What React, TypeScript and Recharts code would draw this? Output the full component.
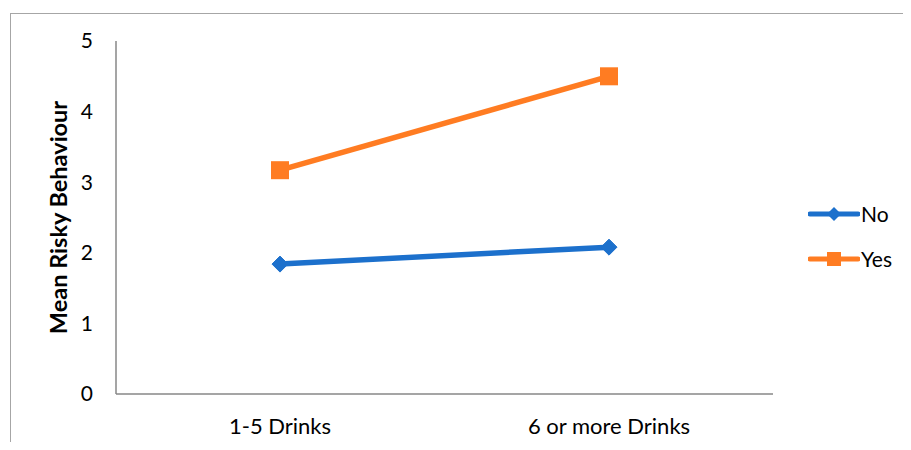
import { Line, LineChart, XAxis, YAxis } from "recharts";

const drinkGroups = ["1-5 Drinks", "6 or more Drinks"];
const noValues = [1.84, 2.08];
const yesValues = [3.17, 4.5];
const yTicks = [0, 1, 2, 3, 4, 5];

const data = drinkGroups.map((group, i) => ({ group, No: noValues[i], Yes: yesValues[i] }));

const FONT = "Lato, 'Liberation Sans', sans-serif";
const BLUE = "#1c70cc";
const ORANGE = "#ff7c22";

// diamond marker for the "No" series
function Diamond(props: any) {
  const { cx, cy } = props;
  if (cx == null || cy == null) return null;
  const r = 8;
  return (
    <path
      d={`M${cx - r},${cy} L${cx},${cy - r} L${cx + r},${cy} L${cx},${cy + r} Z`}
      fill={BLUE}
      stroke={BLUE}
      strokeWidth={1}
    />
  );
}

function Square(props: any) {
  const { cx, cy } = props;
  if (cx == null || cy == null) return null;
  const s = 9;
  return <rect x={cx - s} y={cy - s} width={s * 2} height={s * 2} fill={ORANGE} />;
}

function LegendBox() {
  const items = [
    { name: "No", color: BLUE, shape: "diamond" },
    { name: "Yes", color: ORANGE, shape: "square" },
  ];
  return (
    <div style={{ fontFamily: FONT, fontSize: 21, color: "#000" }}>
      {items.map((it) => (
        <div key={it.name} style={{ display: "flex", alignItems: "center", height: 45 }}>
          <svg width={52} height={20}>
            <line x1={2} y1={10} x2={50} y2={10} stroke={it.color} strokeWidth={5} strokeLinecap="round" />
            {it.shape === "diamond" ? (
              <path d="M19,10 L26,3 L33,10 L26,17 Z" fill={it.color} />
            ) : (
              <rect x={19} y={3} width={14} height={14} fill={it.color} />
            )}
          </svg>
          <span style={{ marginLeft: 1 }}>{it.name}</span>
        </div>
      ))}
    </div>
  );
}

export default function App() {
  return (
    <div style={{ position: "relative", width: 911, height: 450, margin: -8, background: "#fff", overflow: "hidden" }}>
      <div
        style={{
          position: "absolute",
          left: 10,
          top: 13,
          width: 920,
          height: 460,
          borderTop: "1.5px solid #a6a6a6",
          borderLeft: "1.5px solid #a6a6a6",
        }}
      />
      <div style={{ position: "absolute", left: 0, top: 0 }}>
        <LineChart width={911} height={450} data={data} margin={{ top: 41, right: 138, bottom: 0, left: 0 }}>
          <XAxis
            dataKey="group"
            height={56}
            padding={{ left: 164, right: 164 }}
            tickLine={false}
            axisLine={{ stroke: "#878787", strokeWidth: 1.5 }}
            tick={{ fontSize: 22, fill: "#000", fontFamily: FONT }}
            tickMargin={18}
          />
          <YAxis
            width={116}
            domain={[0, 5]}
            ticks={yTicks}
            tickLine={false}
            axisLine={{ stroke: "#878787", strokeWidth: 1.5 }}
            tick={{ fontSize: 21, fill: "#000", fontFamily: FONT }}
            tickMargin={17}
            label={{
              content: (p: any) => {
                const vb = p.viewBox || {};
                const cy = (vb.y ?? 41) + (vb.height ?? 353) / 2;
                return (
                  <text
                    x={58}
                    y={cy}
                    transform={`rotate(-90, 58, ${cy})`}
                    textAnchor="middle"
                    dominantBaseline="central"
                    style={{ fontFamily: FONT, fontSize: 23.5, fontWeight: 700, fill: "#000" }}
                  >
                    Mean Risky Behaviour
                  </text>
                );
              },
            }}
          />
          <Line
            dataKey="No"
            stroke={BLUE}
            strokeWidth={5.5}
            dot={<Diamond />}
            activeDot={false}
            isAnimationActive={false}
          />
          <Line
            dataKey="Yes"
            stroke={ORANGE}
            strokeWidth={5.5}
            dot={<Square />}
            activeDot={false}
            isAnimationActive={false}
          />
        </LineChart>
      </div>
      <div style={{ position: "absolute", left: 808, top: 191 }}>
        <LegendBox />
      </div>
    </div>
  );
}
